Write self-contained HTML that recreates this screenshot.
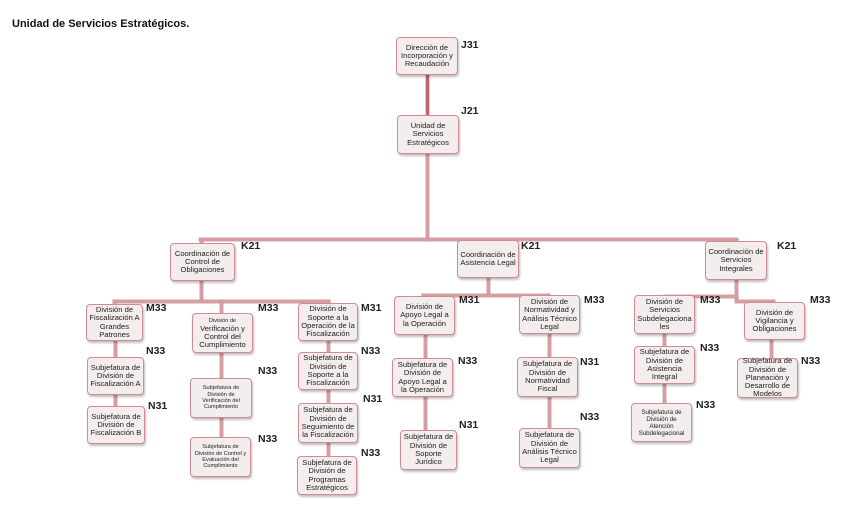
<!DOCTYPE html>
<html><head><meta charset="utf-8"><style>
body{margin:0;width:853px;height:506px;background:#fff;position:relative;overflow:hidden;font-family:"Liberation Sans",sans-serif;}
.t{position:absolute;left:12px;top:18px;font-size:11px;font-weight:bold;color:#111;}
.b{position:absolute;box-sizing:border-box;background:#f3eded;border:1.5px solid #cf8d93;border-radius:4px;box-shadow:1px 2px 2px rgba(0,0,0,0.25);display:flex;align-items:center;justify-content:center;text-align:center;font-size:7.6px;line-height:8.3px;color:#222;padding:0 2px;}
.s{font-size:5.6px;line-height:6.4px;}
.l{position:absolute;background:#d69ea3;box-shadow:0 0 0 0.4px #c98a90;}
.k{position:absolute;font-size:10.5px;font-weight:bold;color:#222;}
</style></head><body>
<div class="t">Unidad de Servicios Estratégicos.</div>

<div class="l" style="left:426px;top:74px;width:3px;height:42px;background:#c4636b"></div>
<div class="l" style="left:426px;top:153px;width:3px;height:88px"></div>
<div class="l" style="left:199px;top:238px;width:539px;height:3px"></div>
<div class="l" style="left:200px;top:240px;width:3px;height:5px"></div>
<div class="l" style="left:487px;top:240px;width:3px;height:2px"></div>
<div class="l" style="left:735px;top:240px;width:3px;height:3px"></div>
<div class="l" style="left:200px;top:280px;width:3px;height:22px"></div>
<div class="l" style="left:113px;top:300px;width:217px;height:3px"></div>
<div class="l" style="left:113px;top:300px;width:3px;height:6px"></div>
<div class="l" style="left:220px;top:300px;width:3px;height:14px"></div>
<div class="l" style="left:327px;top:300px;width:3px;height:5px"></div>
<div class="l" style="left:114px;top:340px;width:3px;height:68px"></div>
<div class="l" style="left:220px;top:352px;width:3px;height:86px"></div>
<div class="l" style="left:327px;top:341px;width:3px;height:116px"></div>
<div class="l" style="left:487px;top:277px;width:3px;height:18px"></div>
<div class="l" style="left:422px;top:294px;width:128px;height:3px"></div>
<div class="l" style="left:422px;top:294px;width:3px;height:4px"></div>
<div class="l" style="left:547px;top:294px;width:3px;height:3px"></div>
<div class="l" style="left:424px;top:335px;width:3px;height:96px"></div>
<div class="l" style="left:548px;top:334px;width:3px;height:96px"></div>
<div class="l" style="left:735px;top:280px;width:3px;height:20px"></div>
<div class="l" style="left:664px;top:295px;width:74px;height:3px"></div>
<div class="l" style="left:735px;top:300px;width:39px;height:3px"></div>
<div class="l" style="left:664px;top:295px;width:3px;height:2px"></div>
<div class="l" style="left:772px;top:300px;width:3px;height:3px"></div>
<div class="l" style="left:663px;top:334px;width:3px;height:70px"></div>
<div class="l" style="left:770px;top:340px;width:3px;height:19px"></div>

<div class="b" style="left:396px;top:37px;width:62px;height:38px">Dirección de Incorporación y Recaudación</div>
<div class="b" style="left:397px;top:115px;width:62px;height:39px">Unidad de Servicios Estratégicos</div>
<div class="b" style="left:170px;top:243px;width:65px;height:38px">Coordinación de Control de Obligaciones</div>
<div class="b" style="left:457px;top:240px;width:62px;height:38px">Coordinación de Asistencia Legal</div>
<div class="b" style="left:705px;top:241px;width:62px;height:39px">Coordinación de Servicios Integrales</div>

<div class="b" style="left:86px;top:304px;width:57px;height:37px">División de Fiscalización A Grandes Patrones</div>
<div class="b" style="left:192px;top:313px;width:61px;height:40px"><span><span class="s">División de</span><br>Verificación y Control del Cumplimiento</span></div>
<div class="b" style="left:298px;top:303px;width:60px;height:38px">División de Soporte a la Operación de la Fiscalización</div>
<div class="b" style="left:394px;top:296px;width:61px;height:39px">División de Apoyo Legal a la Operación</div>
<div class="b" style="left:519px;top:295px;width:61px;height:39px">División de Normatividad y Análisis Técnico Legal</div>
<div class="b" style="left:634px;top:295px;width:61px;height:39px">División de Servicios Subdelegaciona les</div>
<div class="b" style="left:744px;top:302px;width:61px;height:38px">División de Vigilancia y Obligaciones</div>

<div class="b" style="left:87px;top:357px;width:57px;height:38px">Subjefatura de División de Fiscalización A</div>
<div class="b" style="left:87px;top:406px;width:58px;height:38px">Subjefatura de División de Fiscalización B</div>
<div class="b s" style="left:190px;top:378px;width:62px;height:40px">Subjefatura de División de Verificación del Cumplimiento</div>
<div class="b s" style="left:190px;top:437px;width:61px;height:40px">Subjefatura de División de Control y Evaluación del Cumplimiento</div>
<div class="b" style="left:298px;top:352px;width:60px;height:38px">Subjefatura de División de Soporte a la Fiscalización</div>
<div class="b" style="left:298px;top:403px;width:60px;height:40px">Subjefatura de División de Seguimiento de la Fiscalización</div>
<div class="b" style="left:297px;top:456px;width:60px;height:39px">Subjefatura de División de Programas Estratégicos</div>
<div class="b" style="left:392px;top:358px;width:61px;height:39px">Subjefatura de División de Apoyo Legal a la Operación</div>
<div class="b" style="left:400px;top:430px;width:57px;height:40px">Subjefatura de División de Soporte Jurídico</div>
<div class="b" style="left:517px;top:357px;width:61px;height:40px">Subjefatura de División de Normatividad Fiscal</div>
<div class="b" style="left:519px;top:428px;width:61px;height:40px">Subjefatura de División de Análisis Técnico Legal</div>
<div class="b" style="left:634px;top:346px;width:61px;height:38px">Subjefatura de División de Asistencia Integral</div>
<div class="b" style="left:631px;top:403px;width:61px;height:39px"><span style="font-size:6.2px;line-height:7px">Subjefatura de División de Atención Subdelegacional</span></div>
<div class="b" style="left:737px;top:358px;width:61px;height:40px">Subjefatura de División de Planeación y Desarrollo de Modelos</div>

<div class="k" style="left:461px;top:39px">J31</div>
<div class="k" style="left:461px;top:105px">J21</div>
<div class="k" style="left:241px;top:240px">K21</div>
<div class="k" style="left:521px;top:240px">K21</div>
<div class="k" style="left:777px;top:240px">K21</div>
<div class="k" style="left:146px;top:302px">M33</div>
<div class="k" style="left:258px;top:302px">M33</div>
<div class="k" style="left:361px;top:302px">M31</div>
<div class="k" style="left:459px;top:294px">M31</div>
<div class="k" style="left:584px;top:294px">M33</div>
<div class="k" style="left:700px;top:294px">M33</div>
<div class="k" style="left:810px;top:294px">M33</div>
<div class="k" style="left:146px;top:345px">N33</div>
<div class="k" style="left:148px;top:400px">N31</div>
<div class="k" style="left:258px;top:365px">N33</div>
<div class="k" style="left:258px;top:433px">N33</div>
<div class="k" style="left:361px;top:345px">N33</div>
<div class="k" style="left:363px;top:393px">N31</div>
<div class="k" style="left:361px;top:447px">N33</div>
<div class="k" style="left:458px;top:355px">N33</div>
<div class="k" style="left:459px;top:419px">N31</div>
<div class="k" style="left:580px;top:356px">N31</div>
<div class="k" style="left:580px;top:411px">N33</div>
<div class="k" style="left:700px;top:342px">N33</div>
<div class="k" style="left:696px;top:399px">N33</div>
<div class="k" style="left:801px;top:355px">N33</div>
</body></html>
